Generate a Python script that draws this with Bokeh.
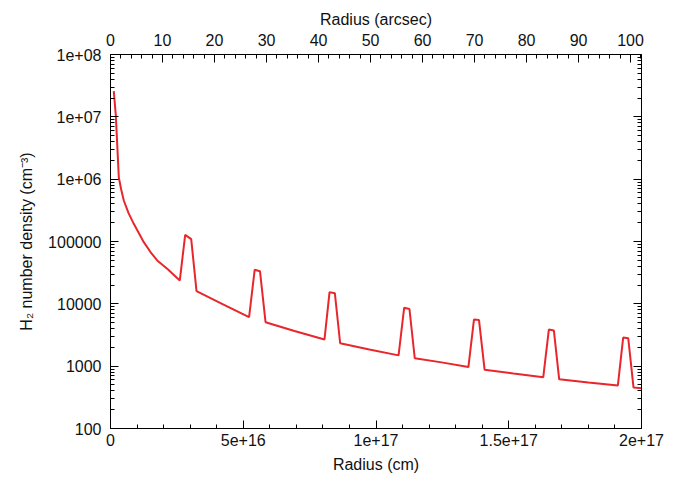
from bokeh.plotting import figure
from bokeh.models import Range1d, LinearAxis, LogAxis, FixedTicker
from bokeh.embed import file_html
from bokeh.resources import INLINE

# Data
radius_cm = [1.24e15, 2.0e15, 3.13e15, 4.0e15, 5.01e15, 6.8e15, 8.77e15, 1.254e16, 1.506e16, 1.759e16,
             2.147e16, 2.61e16,
             2.813e16, 3.04e16, 3.24e16, 4.22e16, 5.22e16,
             5.43e16, 5.63e16, 5.84e16, 6.93e16, 8.06e16,
             8.25e16, 8.45e16, 8.65e16, 9.75e16, 1.085e17,
             1.106e17, 1.126e17, 1.146e17, 1.247e17, 1.348e17,
             1.369e17, 1.388e17, 1.409e17, 1.518e17, 1.630e17,
             1.651e17, 1.670e17, 1.690e17, 1.800e17, 1.911e17,
             1.931e17, 1.950e17, 1.970e17, 2.0e17]
h2_density = [2.58e7, 1.05e7, 1.07e6, 6.9e5, 4.55e5, 2.85e5, 1.92e5, 9.75e4, 6.78e4, 4.96e4,
              3.62e4, 2.37e4,
              1.28e5, 1.09e5, 1.60e4, 9.93e3, 6.10e3,
              3.52e4, 3.34e4, 5.07e3, 3.66e3, 2.68e3,
              1.54e4, 1.48e4, 2.33e3, 1.85e3, 1.49e3,
              8.63e3, 8.26e3, 1.34e3, 1.15e3, 968,
              5.60e3, 5.50e3, 877, 762, 665,
              3.87e3, 3.73e3, 615, 547, 490,
              2.88e3, 2.81e3, 454, 443]

x_ticks = [0.0, 5e16, 1e17, 1.5e17, 2e17]
x_tick_labels = ["0", "5e+16", "1e+17", "1.5e+17", "2e+17"]
x2_ticks = [0, 10, 20, 30, 40, 50, 60, 70, 80, 90, 100]
x2_tick_labels = ["0", "10", "20", "30", "40", "50", "60", "70", "80", "90", "100"]
y_ticks = [1e2, 1e3, 1e4, 1e5, 1e6, 1e7, 1e8]
y_tick_labels = ["100", "1000", "10000", "100000", "1e+06", "1e+07", "1e+08"]
arcsec_max = 102.1

FONT = "Liberation Sans"
FS = "16px"

p = figure(width=694, height=480, output_backend="svg", toolbar_location=None,
           x_range=Range1d(0, 2e17), y_range=Range1d(100, 1e8), y_axis_type="log",
           x_axis_location=None, y_axis_location=None,
           title="Radius (arcsec)", title_location="above",
           min_border_left=110, min_border_right=53, min_border_top=54, min_border_bottom=52)
p.extra_x_ranges = {"arcsec": Range1d(0, arcsec_max)}
p.xgrid.visible = False
p.ygrid.visible = False
p.outline_line_color = "black"
p.outline_line_width = 1
p.background_fill_color = "white"
p.border_fill_color = "white"
p.title.align = "center"
p.title.text_font = FONT
p.title.text_font_size = FS
p.title.text_font_style = "normal"
p.title.text_color = "#111111"
p.title.standoff = 5
p.title.offset = 0


def style(ax):
    ax.axis_line_color = "black"
    ax.major_tick_line_color = "black"
    ax.minor_tick_line_color = "black"
    ax.major_tick_in = 8
    ax.major_tick_out = 0
    ax.minor_tick_in = 4
    ax.minor_tick_out = 0
    ax.major_label_text_font = FONT
    ax.major_label_text_font_size = FS
    ax.major_label_text_color = "#111111"
    ax.axis_label_text_font = FONT
    ax.axis_label_text_font_size = FS
    ax.axis_label_text_font_style = "normal"
    ax.axis_label_text_color = "#111111"


x_minor = [i * 1e16 for i in range(0, 21)]
bottom = LinearAxis(ticker=FixedTicker(ticks=x_ticks, minor_ticks=x_minor),
                    axis_label="Radius (cm)")
bottom.major_label_overrides = dict(zip(x_ticks, x_tick_labels))
style(bottom)
bottom.major_label_standoff = 5
bottom.axis_label_standoff = 7
p.add_layout(bottom, "below")

x2_minor = list(range(0, 103, 2))
top = LinearAxis(x_range_name="arcsec", ticker=FixedTicker(ticks=x2_ticks, minor_ticks=x2_minor))
top.major_label_overrides = dict(zip(x2_ticks, x2_tick_labels))
style(top)
top.major_label_standoff = 9
p.add_layout(top, "above")

y_minor = [m * 10 ** e for e in range(2, 8) for m in range(2, 10)]
left = LogAxis(ticker=FixedTicker(ticks=y_ticks, minor_ticks=y_minor),
               axis_label="H\u2082 number density (cm\u207b\u00b3)")
left.major_label_overrides = dict(zip(y_ticks, y_tick_labels))
style(left)
left.major_label_standoff = 9
left.axis_label_standoff = 10
p.add_layout(left, "left")

right = LogAxis(ticker=FixedTicker(ticks=y_ticks, minor_ticks=y_minor))
style(right)
right.major_label_overrides = {t: "" for t in y_ticks}
p.add_layout(right, "right")

p.line(radius_cm, h2_density, line_color="#e8262b", line_width=2)

open("out.html", "w").write(file_html(p, INLINE))
